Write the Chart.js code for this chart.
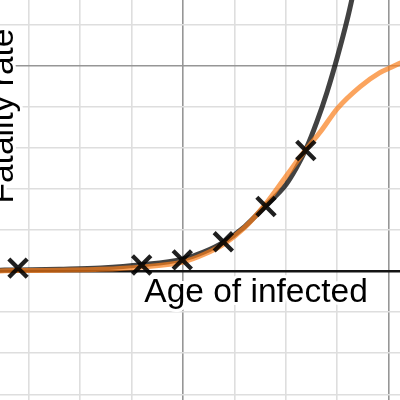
<!DOCTYPE html>
<html>
<head>
<meta charset="utf-8">
<script src="https://cdn.jsdelivr.net/npm/chart.js@4/dist/chart.umd.min.js"></script>
<style>
  html, body { margin: 0; padding: 0; background: #fff; }
  #wrap { width: 400px; height: 400px; }
</style>
</head>
<body>
<div id="wrap"><canvas id="chart" width="400" height="400"></canvas></div>
<script>
// measured points (age groups, fatality)
const pointsX = [3.96, 15.98, 19.93, 23.92, 28.07, 31.94]
const pointsY = [0.07, 0.146, 0.27, 0.71, 1.57, 2.93]

// exponential fit
const expX = [2, 4, 8, 12, 16, 20, 22, 24, 26, 28, 30, 31, 32, 33, 34, 35, 36, 36.5, 37]
const expY = [0.02, 0.025, 0.045, 0.075, 0.15, 0.29, 0.46, 0.71, 1.08, 1.58, 2.1, 2.5, 2.99, 3.62, 4.35, 5.2, 6.15, 6.7, 7.3]

// logistic fit
const logX = [2, 4, 8, 12, 16, 20, 22, 24, 26, 28, 30, 32, 33.4, 35, 37.2, 39.1, 40.3, 41.3]
const logY = [0.0, 0.01, 0.02, 0.04, 0.10, 0.22, 0.40, 0.66, 1.06, 1.62, 2.3, 2.97, 3.40, 3.95, 4.48, 4.82, 4.96, 5.08]

// visible window and grid steps
const xMin = 2.208, xMax = 41.097
const yMin = -3.138, yMax = 6.592
const xMinor = 5, xMajor = 20
const yMinor = 1, yMajor = 5

const xLabel = "Age of infected"
const yLabel = "Fatality rate"

const toXY = (xs, ys) => xs.map((x, i) => ({x: x, y: ys[i]}))

const isMultiple = (v, step) => Math.abs(v / step - Math.round(v / step)) < 1e-6

const gridColor = (step) => (ctx) => {
    const v = ctx.tick ? ctx.tick.value : 0
    if (Math.abs(v) < 1e-6) return 'rgb(20,20,20)'
    if (isMultiple(v, step)) return 'rgb(150,150,150)'
    return 'rgb(222,222,222)'
}
const gridWidth = (ctx) => {
    const v = ctx.tick ? ctx.tick.value : 0
    if (Math.abs(v) < 1e-6) return 2.6
    return 1.6
}

const drawHalo = (ctx, text, x, y) => {
    ctx.lineJoin = 'round'
    ctx.lineWidth = 6
    ctx.strokeStyle = '#ffffff'
    ctx.strokeText(text, x, y)
    ctx.fillStyle = '#000000'
    ctx.fillText(text, x, y)
}

const axisLabels = {
    id: 'axisLabels',
    afterDraw(chart) {
        const ctx = chart.ctx
        const xs = chart.scales.x, ys = chart.scales.y
        ctx.save()
        ctx.font = "33.5px 'Liberation Sans', Arial, sans-serif"
        ctx.textAlign = 'center'
        ctx.textBaseline = 'alphabetic'
        drawHalo(ctx, xLabel, xs.getPixelForValue(27.1), ys.getPixelForValue(-0.76))
        ctx.translate(xs.getPixelForValue(3.47), ys.getPixelForValue(3.77))
        ctx.rotate(-Math.PI / 2)
        drawHalo(ctx, yLabel, 0, 0)
        ctx.restore()
    }
}

new Chart(document.getElementById('chart').getContext('2d'), {
    type: 'scatter',
    data: {
        datasets: [
            {
                label: 'data',
                data: toXY(pointsX, pointsY),
                pointStyle: 'crossRot',
                pointRadius: 13,
                pointHoverRadius: 13,
                borderWidth: 4.3,
                borderColor: 'rgba(0,0,0,0.88)',
                backgroundColor: 'rgba(0,0,0,0.88)',
                order: 0
            },
            {
                label: 'logistic',
                data: toXY(logX, logY),
                showLine: true,
                cubicInterpolationMode: 'monotone',
                pointRadius: 0,
                borderWidth: 5,
                borderColor: 'rgba(250,126,25,0.7)',
                order: 1
            },
            {
                label: 'exponential',
                data: toXY(expX, expY),
                showLine: true,
                cubicInterpolationMode: 'monotone',
                pointRadius: 0,
                borderWidth: 5,
                borderColor: 'rgba(0,0,0,0.74)',
                order: 2
            }
        ]
    },
    options: {
        responsive: false,
        animation: false,
        layout: { padding: 0, autoPadding: false },
        plugins: {
            legend: { display: false },
            tooltip: { enabled: false }
        },
        scales: {
            x: {
                type: 'linear',
                min: xMin,
                max: xMax,
                border: { display: false },
                ticks: { display: false, stepSize: xMinor, includeBounds: false },
                grid: { drawTicks: false, color: gridColor(xMajor), lineWidth: gridWidth }
            },
            y: {
                type: 'linear',
                min: yMin,
                max: yMax,
                border: { display: false },
                ticks: { display: false, stepSize: yMinor, includeBounds: false },
                grid: { drawTicks: false, color: gridColor(yMajor), lineWidth: gridWidth }
            }
        }
    },
    plugins: [axisLabels]
})
</script>
</body>
</html>
